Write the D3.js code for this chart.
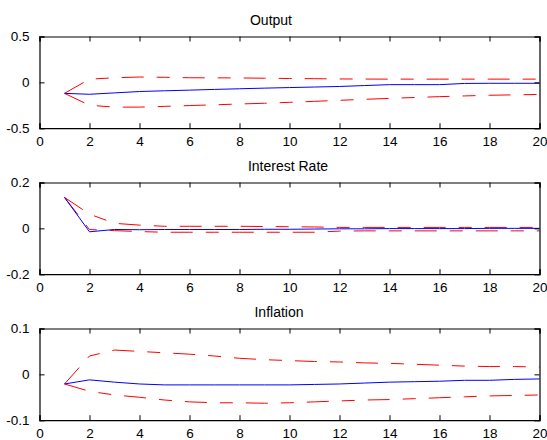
<!DOCTYPE html>
<html><head><meta charset="utf-8">
<script src="https://cdn.jsdelivr.net/npm/d3@7/dist/d3.min.js"></script>
<style>body{margin:0;background:#fff;}svg{display:block;}</style>
</head><body>
<svg id="c" width="547" height="440"></svg>
<script>
const periods = d3.range(1, 21);
const titles = ["Output", "Interest Rate", "Inflation"];
const xTicks = [0, 2, 4, 6, 8, 10, 12, 14, 16, 18, 20];
const yDomains = [[-0.5, 0.5], [-0.2, 0.2], [-0.1, 0.1]];
const yTickValues = [[-0.5, 0, 0.5], [-0.2, 0, 0.2], [-0.1, 0, 0.1]];
const yTickLabels = [["-0.5", "0", "0.5"], ["-0.2", "0", "0.2"], ["-0.1", "0", "0.1"]];

const outputMean  = [-0.12,-0.13,-0.115,-0.10,-0.092,-0.085,-0.077,-0.07,-0.063,-0.057,-0.051,-0.045,-0.035,-0.025,-0.025,-0.025,-0.012,-0.01,-0.01,-0.01];
const outputUpper = [-0.12,0.035,0.05,0.058,0.055,0.05,0.049,0.048,0.045,0.042,0.04,0.037,0.036,0.035,0.035,0.035,0.035,0.035,0.035,0.035];
const outputLower = [-0.12,-0.25,-0.27,-0.27,-0.262,-0.253,-0.245,-0.236,-0.228,-0.218,-0.207,-0.196,-0.185,-0.175,-0.165,-0.156,-0.148,-0.141,-0.136,-0.132];

const rateMean  = [0.135,-0.015,-0.005,-0.006,-0.005,-0.005,-0.005,-0.005,-0.004,-0.004,-0.003,-0.002,-0.002,-0.001,-0.001,-0.001,-0.001,0,0,0];
const rateUpper = [0.135,0.062,0.022,0.014,0.009,0.009,0.009,0.009,0.008,0.007,0.006,0.004,0.004,0.004,0.004,0.004,0.004,0.004,0.004,0.004];
const rateLower = [0.135,-0.005,-0.01,-0.014,-0.017,-0.017,-0.017,-0.017,-0.017,-0.017,-0.017,-0.012,-0.011,-0.011,-0.011,-0.011,-0.011,-0.011,-0.011,-0.011];

const inflMean  = [-0.021,-0.012,-0.017,-0.021,-0.023,-0.023,-0.023,-0.023,-0.023,-0.023,-0.022,-0.021,-0.019,-0.017,-0.016,-0.015,-0.013,-0.013,-0.011,-0.01];
const inflUpper = [-0.021,0.04,0.053,0.05,0.047,0.044,0.04,0.035,0.032,0.03,0.028,0.027,0.025,0.024,0.022,0.02,0.018,0.017,0.017,0.016];
const inflLower = [-0.021,-0.037,-0.045,-0.05,-0.056,-0.06,-0.062,-0.062,-0.063,-0.062,-0.06,-0.058,-0.056,-0.055,-0.053,-0.051,-0.049,-0.047,-0.046,-0.045];

const means = [outputMean, rateMean, inflMean];
const uppers = [outputUpper, rateUpper, inflUpper];
const lowers = [outputLower, rateLower, inflLower];

// layout
const left = 39.5, right = 539.5;
const tops = [36.5, 182.5, 328.5];
const panelH = 91.7;
const titleX = [271, 288, 279];
const font = "Arial, 'Liberation Sans', Helvetica, sans-serif";

const svg = d3.select("#c");
const x = d3.scaleLinear().domain([0, 20]).range([left, right]);

titles.forEach((t, i) => {
  const top = tops[i], bot = top + panelH;
  const y = d3.scaleLinear().domain(yDomains[i]).range([bot, top]);
  const g = svg.append("g");

  const line = d3.line().x((d, j) => x(periods[j])).y(d => y(d));

  [uppers[i], lowers[i]].forEach(arr => {
    g.append("path").attr("d", line(arr))
      .attr("fill", "none").attr("stroke", "#ff0000").attr("stroke-width", 1)
      .attr("stroke-dasharray", "22,13,13,13");
  });
  g.append("path").attr("d", line(means[i]))
    .attr("fill", "none").attr("stroke", "#0000ff").attr("stroke-width", 1);

  const tl = 5;
  const xb = d3.axisBottom(x).tickValues(xTicks).tickSize(-tl).tickPadding(tl + 3).tickFormat(d3.format("d"));
  const xt = d3.axisTop(x).tickValues(xTicks).tickSize(-tl).tickFormat("");
  const yl = d3.axisLeft(y).tickValues(yTickValues[i]).tickSize(-tl).tickPadding(tl + 5)
    .tickFormat((d, k) => yTickLabels[i][k]);
  const yr = d3.axisRight(y).tickValues(yTickValues[i]).tickSize(-tl).tickFormat("");

  const ax = [
    g.append("g").attr("transform", `translate(0,${bot})`).call(xb),
    g.append("g").attr("transform", `translate(0,${top})`).call(xt),
    g.append("g").attr("transform", `translate(${left},0)`).call(yl),
    g.append("g").attr("transform", `translate(${right},0)`).call(yr)
  ];
  ax.forEach(a => {
    a.selectAll(".domain").attr("stroke", "#000").attr("stroke-width", 1.2);
    a.selectAll(".tick line").attr("stroke", "#000").attr("stroke-width", 1);
    a.selectAll("text").attr("font-family", font).attr("font-size", 13.5).attr("fill", "#000");
  });

  g.append("text").attr("x", titleX[i]).attr("y", top - 12)
    .attr("text-anchor", "middle").attr("font-family", font).attr("font-size", 14)
    .attr("fill", "#000").text(t);
});
</script>
</body></html>
